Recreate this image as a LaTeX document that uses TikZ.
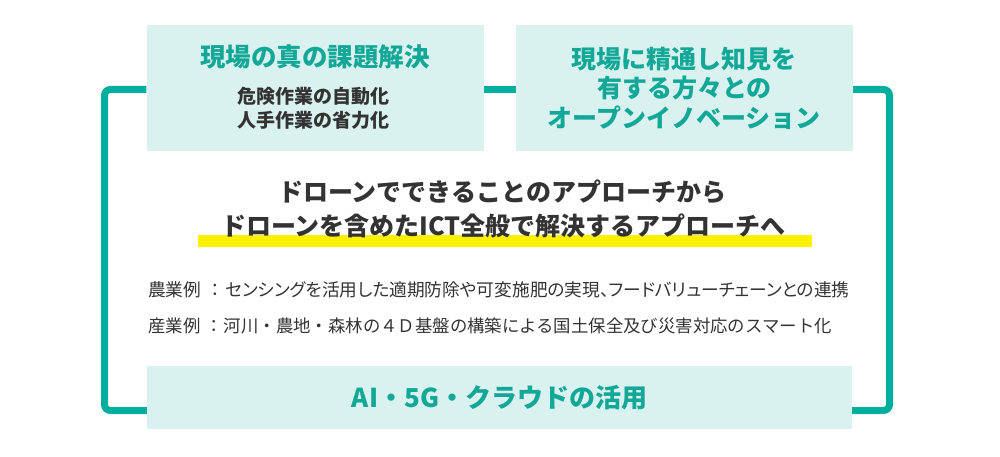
\documentclass[tikz,border=0pt]{standalone}
\usepackage{fontspec}
\setmainfont{Noto Sans CJK JP}
\newfontfamily\propfont{Noto Sans CJK JP}[RawFeature=+palt]
\usepackage{tikz}
\usetikzlibrary{positioning}
\definecolor{lineTeal}{HTML}{00AE9D}
\definecolor{titleTeal}{HTML}{12A797}
\definecolor{boxMint}{HTML}{D9F2EF}
\definecolor{textGray}{HTML}{333333}
\definecolor{markYellow}{HTML}{FFF100}
\newcommand{\exColon}{\hspace{0.3em}{\normalfont：}\hspace{0.05em}}

\begin{document}
\begin{tikzpicture} %
		[
			x=1pt, y=-1pt,
			every text node part/.style={align=center}, % keeps the \\ lines centred
			panel/.style={
				fill=boxMint,
				inner sep=0,
				minimum width=337pt,
				minimum height=126pt,
			},
			title/.style={font={\fontsize{25.5}{29.5}\selectfont\bfseries}, text=titleTeal},
			sub/.style={font={\fontsize{19}{24}\selectfont\bfseries}, text=textGray},
			lead/.style={font={\fontsize{25}{28}\selectfont\bfseries}, text=textGray, inner sep=0},
			example/.style={font={\fontsize{17.7}{20}\selectfont\propfont}, text=textGray, inner sep=0, anchor=west},
			highlight/.style={fill=markYellow, inner sep=0, minimum width=614pt, minimum height=12pt},
			frame/.style={draw=lineTeal, line width=7pt, rounded corners=6pt},
		]
		\useasboundingbox (0,0) rectangle (1000,457);
		\node[panel] 
		(p0) at (315,88) {};
		\node[panel, title, font={\fontsize{25}{29.5}\selectfont\bfseries}, right =32pt of p0] 
		(p1) 
		{現場に精通し知見を\\有する方々との\\オープンイノベーション};
		\node[panel, title, font={\fontsize{26}{30}\selectfont\bfseries}, minimum width=705pt, minimum height=63pt] 
		(p2) at (499.5,397.5)
		{AI・5G・クラウドの活用};
		\node[title] (t0) at (315,57) {現場の真の課題解決};
		\node[sub] (s0) at (313,108) {危険作業の自動化\\人手作業の省力化};
		% marker under the second line
		\node[highlight] (hl) at (505,241) {};
		\node[lead] (h0) at (502,192) {ドローンでできることのアプローチから};
		\node[lead] (h1) at (503.5,226) {ドローンを含めたICT全般で解決するアプローチへ};
		\node[example] 
		(e0) at (148,290) 
		{農業例\exColon センシングを活用した適期防除や可変施肥の実現、フードバリューチェーンとの連携};
		\node[example, font={\fontsize{17.4}{20}\selectfont}] 
		(e1) at (148,326) 
		{産業例\exColon 河川・農地・森林の４Ｄ基盤の構築による国土保全及び災害対応のスマート化};
		\coordinate (c0) at (104.5,410.5);
		\coordinate (c1) at (889.5,410.5);
		\draw[frame] 
		([yshift=-1.5pt]p0.west) -| (c0) -- (c0 -| p2.west);
		\draw[frame] 
		([yshift=-1.5pt]p0.east) -- ([yshift=-1.5pt]p1.west);
		\draw[frame] 
		([yshift=-1.5pt]p1.east) -| (c1) -- (c1 -| p2.east);
	\end{tikzpicture}
\end{document}
